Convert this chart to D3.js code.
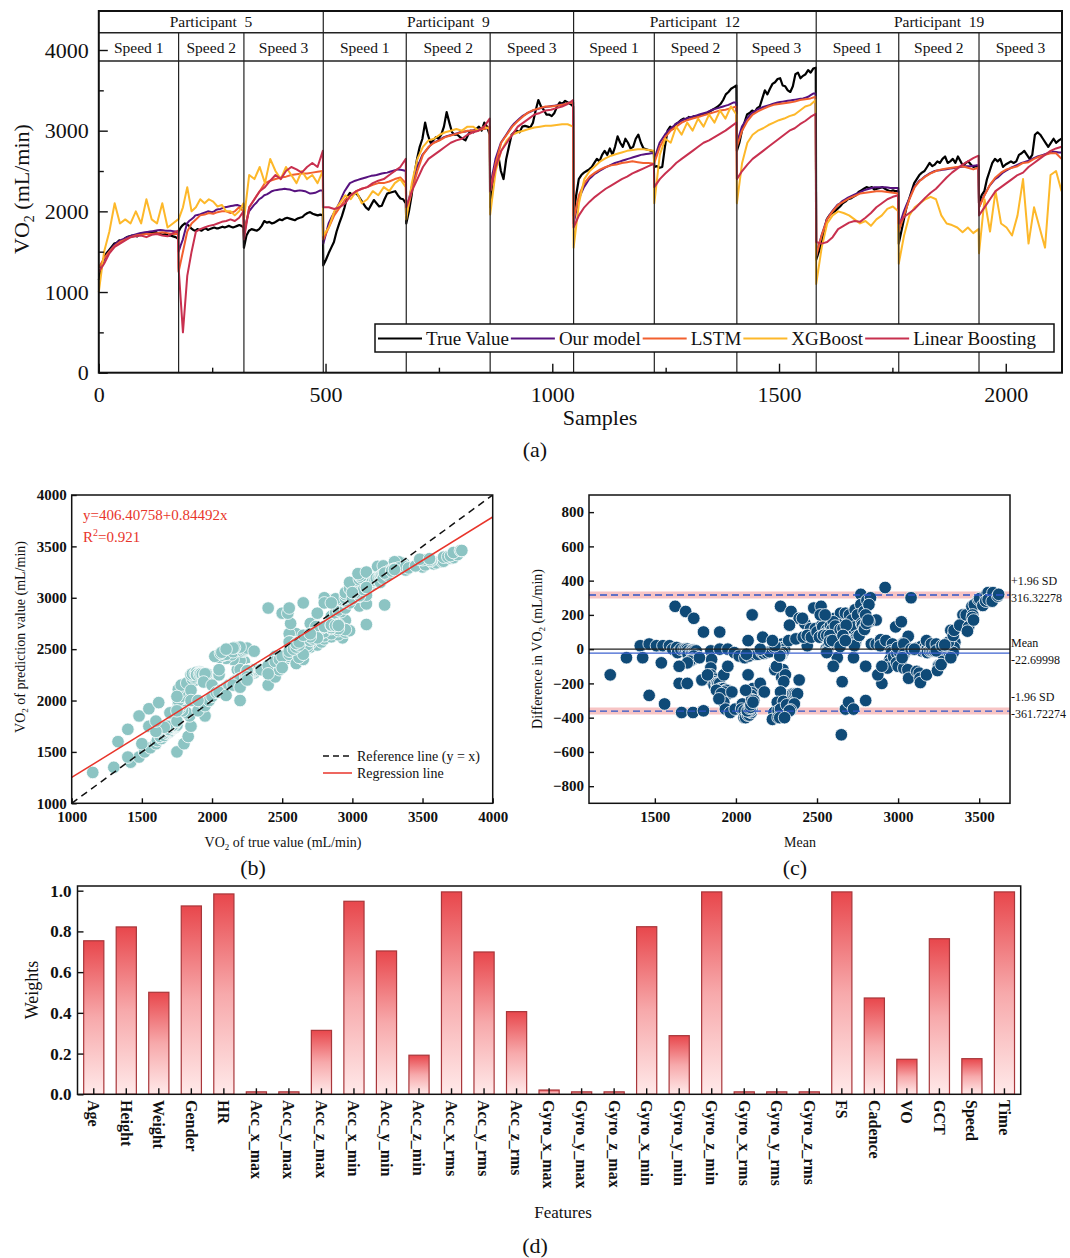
<!DOCTYPE html>
<html>
<head>
<meta charset="utf-8">
<script src="https://cdn.jsdelivr.net/npm/d3@7"></script>
<style>
  body { margin: 0; background: #fff; }
  svg { display: block; }
  text { font-family: "Liberation Serif", "Times New Roman", serif; fill: #111; }
</style>
</head>
<body>
<div id="chart"></div>
<script>
// ---------- data ----------
const participants = ["Participant  5", "Participant  9", "Participant  12", "Participant  19"];
const speeds = ["Speed 1", "Speed 2", "Speed 3"];
// first sample of every participant/speed block, and the last sample
const segStart = [0, 176, 320, 495, 678, 863, 1047, 1225, 1407, 1582, 1764, 1941];
const lastSample = 2124;

const seriesNames = ["True Value", "Our model", "LSTM", "XGBoost", "Linear Boosting"];
const seriesColors = ["#000000", "#57127f", "#f2602f", "#fdb82a", "#c8304f"];

// VO2 (mL/min): 32 readings per block for true value / our model
const trueValue = [
  1150,1300,1420,1480,1520,1560,1600,1610,1640,1630,1660,1680,1690,1700,1700,1690,1720,1730,1720,1740,1740,1730,1750,1730,1720,1710,1720,1700,1700,1690,1680,1660,
  1750,1800,1830,1850,1840,1820,1790,1770,1760,1780,1770,1760,1780,1790,1770,1780,1790,1800,1790,1790,1800,1810,1800,1810,1820,1810,1800,1810,1820,1830,1820,1800,
  1550,1700,1760,1780,1770,1760,1780,1820,1880,1860,1870,1850,1860,1880,1900,1890,1910,1920,1910,1900,1890,1910,1920,1930,1960,1980,1990,1970,1960,1950,1960,1950,
  1330,1400,1480,1550,1620,1750,1850,1940,2050,2180,2230,2200,2230,2200,2150,2100,2050,2020,2080,2140,2100,2060,2070,2150,2220,2230,2240,2250,2200,2160,2150,2100,
  1850,2000,2200,2450,2650,2800,2900,3100,2950,2850,2880,2920,2900,2950,3050,3230,3100,2980,2950,2950,2920,2900,2880,2950,3000,2980,3020,3050,3000,3100,3050,2950,
  2050,2300,2600,2700,2500,2400,2650,2800,2950,2980,3000,2980,3050,3060,3050,3040,3100,3250,3380,3300,3260,3200,3200,3180,3220,3300,3350,3330,3370,3350,3330,3300,
  1950,2200,2400,2450,2480,2500,2520,2550,2600,2650,2620,2700,2750,2700,2780,2700,2800,2930,2850,2800,2900,2850,2780,2800,2900,2950,2850,2780,2770,2760,2750,2740,
  2550,2560,2540,2550,2800,3000,3050,3020,3080,3100,3130,3150,3140,3170,3160,3180,3170,3190,3200,3210,3220,3240,3260,3280,3300,3330,3380,3450,3480,3520,3540,3560,
  2750,2850,3000,3100,3200,3220,3250,3230,3280,3300,3400,3500,3450,3520,3580,3600,3640,3650,3560,3550,3500,3480,3550,3700,3720,3650,3680,3700,3750,3720,3770,3780,
  1400,1500,1600,1750,1900,1950,1980,2000,2030,2060,2100,2120,2150,2160,2180,2200,2240,2260,2280,2300,2290,2300,2270,2280,2290,2300,2280,2260,2250,2260,2250,2250,
  1600,1750,1900,2050,2150,2250,2350,2400,2450,2480,2500,2550,2600,2560,2580,2620,2600,2650,2680,2600,2620,2650,2600,2680,2620,2560,2600,2620,2580,2550,2560,2550,
  2100,2200,2250,2400,2500,2600,2650,2620,2650,2550,2580,2600,2620,2600,2620,2700,2720,2750,2700,2650,2700,2950,2980,2950,2900,2850,2800,2850,2900,2850,2880,2900
];
const ourModel = [
  1300,1350,1400,1450,1500,1540,1580,1610,1630,1650,1660,1680,1690,1700,1710,1720,1730,1735,1740,1745,1750,1755,1760,1765,1770,1765,1760,1760,1760,1755,1750,1740,
  1500,1580,1650,1750,1850,1880,1900,1920,1950,1955,1960,1970,1980,1990,2000,1995,1990,2000,2020,2025,2030,2040,2050,2055,2060,2065,2070,2075,2080,2070,2060,2050,
  1750,1880,2000,2040,2080,2110,2150,2170,2200,2210,2230,2250,2260,2265,2270,2275,2280,2275,2270,2260,2250,2255,2260,2255,2250,2235,2220,2225,2230,2245,2260,2260,
  1600,1720,1850,1920,1980,2040,2100,2180,2250,2300,2350,2365,2380,2390,2400,2410,2420,2430,2440,2445,2450,2460,2470,2475,2480,2490,2500,2510,2520,2515,2510,2500,
  2000,2150,2300,2430,2550,2620,2700,2740,2780,2820,2850,2865,2880,2900,2920,2930,2940,2950,2960,2970,2980,2985,2990,2995,3000,3005,3010,3015,3020,3025,3030,3030,
  2300,2480,2650,2750,2850,2900,2950,3000,3050,3090,3120,3150,3180,3200,3220,3235,3250,3260,3270,3280,3290,3295,3300,3305,3310,3315,3320,3325,3330,3340,3350,3350,
  1850,2000,2150,2230,2300,2350,2400,2430,2460,2480,2500,2520,2540,2555,2570,2585,2600,2610,2620,2630,2640,2650,2660,2670,2680,2690,2700,2705,2710,2715,2720,2720,
  2650,2750,2850,2900,2950,2990,3020,3050,3080,3100,3120,3135,3150,3160,3170,3180,3190,3200,3210,3220,3230,3245,3260,3270,3280,3290,3300,3310,3320,3335,3350,3350,
  2850,2950,3050,3100,3150,3190,3220,3240,3260,3275,3290,3300,3310,3320,3330,3340,3350,3355,3360,3365,3370,3375,3380,3385,3390,3395,3400,3410,3420,3440,3460,3460,
  1450,1580,1700,1800,1900,1950,2000,2040,2080,2100,2130,2150,2170,2185,2200,2215,2230,2245,2260,2270,2280,2290,2300,2300,2300,2300,2300,2295,2290,2290,2290,2290,
  1800,1900,2000,2080,2150,2230,2300,2340,2380,2400,2430,2450,2470,2485,2500,2505,2510,2515,2520,2525,2530,2535,2540,2545,2550,2555,2560,2560,2560,2565,2570,2570,
  2050,2130,2200,2260,2320,2360,2400,2420,2450,2480,2500,2520,2540,2555,2570,2585,2600,2610,2620,2635,2650,2665,2680,2690,2700,2710,2720,2730,2740,2735,2730,2730
];
// 16 readings per block for the other models
const lstm = [
  1300,1420,1500,1570,1620,1650,1680,1700,1710,1720,1720,1730,1740,1730,1720,1720,
  1250,1500,1750,1850,1900,1950,1960,1980,1970,1990,2000,2000,1980,2000,2050,2000,
  1700,2050,2150,2250,2350,2380,2400,2420,2430,2450,2460,2470,2470,2480,2490,2500,
  1650,1800,1950,2050,2150,2200,2250,2280,2300,2330,2350,2350,2370,2400,2420,2350,
  1950,2250,2500,2700,2800,2850,2880,2920,2940,2960,2980,3000,3000,3010,3020,3050,
  2250,2600,2850,2950,3050,3120,3180,3230,3260,3280,3300,3300,3310,3320,3340,3350,
  1900,2200,2350,2430,2480,2520,2550,2570,2580,2600,2610,2620,2610,2600,2600,2590,
  2600,2800,2920,3000,3050,3100,3130,3150,3170,3190,3210,3230,3250,3260,3280,3300,
  2800,3000,3120,3200,3240,3270,3300,3320,3330,3340,3350,3360,3380,3390,3400,3420,
  1450,1700,1900,2000,2080,2120,2160,2190,2220,2230,2240,2250,2250,2240,2230,2220,
  1750,1950,2150,2300,2380,2430,2470,2500,2520,2530,2540,2550,2560,2540,2520,2540,
  2050,2200,2330,2420,2480,2520,2540,2560,2600,2610,2650,2680,2700,2720,2720,2650
];
const xgboost = [
  1000,1500,1750,2100,1850,1900,1850,2000,1850,2150,1900,1850,2100,1800,1850,1900,
  1900,2050,2300,2000,2050,2150,2100,2150,2120,2060,2080,2000,2000,1950,2000,2100,
  1900,2450,2400,2550,2350,2650,2500,2400,2550,2450,2350,2500,2400,2450,2350,2500,
  1700,1800,2000,2100,2200,2150,2250,2100,2150,2250,2200,2300,2250,2350,2400,2300,
  1900,2350,2650,2800,2880,2900,2950,2980,3000,3020,3000,3050,3050,3000,3050,3020,
  1960,2500,2750,2880,2950,2980,3000,3020,3040,3050,3060,3060,3070,3080,3080,3050,
  1550,2100,2400,2500,2560,2620,2660,2690,2710,2730,2750,2760,2770,2770,2760,2750,
  2100,2700,2900,2850,3050,2950,3100,3000,3150,3050,3200,3100,3250,3150,3300,3200,
  2100,2600,2850,2950,3000,3030,3070,3100,3130,3150,3180,3200,3250,3300,3320,3380,
  1100,1550,1850,1950,2000,1980,1950,1900,1850,1880,1820,1900,1950,2030,2060,2000,
  1350,1700,1950,2050,2100,2150,2180,2150,1950,1850,1830,1800,1740,1800,1730,1780,
  1480,2150,1750,2250,1850,1800,1700,1950,2400,1600,2050,1800,1550,2450,2500,2250
];
const linearBoosting = [
  1250,1350,1480,1560,1600,1640,1680,1690,1700,1680,1710,1720,1700,1690,1730,1760,
  1300,500,1200,1500,1750,1780,1800,1820,1830,1850,1870,1880,1900,1880,1920,2000,
  1650,2050,2150,2250,2300,2380,2450,2400,2500,2550,2520,2480,2550,2600,2550,2750,
  2050,2050,2030,2050,2100,2200,2250,2280,2300,2350,2380,2400,2450,2500,2550,2650,
  2050,2250,2400,2550,2650,2700,2750,2800,2850,2880,2900,2950,2980,3000,3050,3150,
  2250,2550,2750,2850,2950,3050,3100,3150,3200,3220,3250,3260,3280,3300,3330,3380,
  1800,1950,2050,2120,2180,2230,2280,2320,2360,2400,2430,2470,2500,2530,2560,2590,
  2300,2400,2470,2530,2600,2650,2700,2750,2800,2850,2880,2920,2960,3000,3050,3100,
  2400,2500,2580,2650,2700,2750,2800,2850,2900,2950,3000,3030,3080,3120,3170,3210,
  1620,1600,1620,1680,1780,1820,1860,1880,1870,1920,1980,2050,2100,2150,2180,2200,
  1850,1930,1980,2030,2100,2170,2230,2280,2350,2420,2480,2530,2580,2620,2660,2690,
  1950,2050,2150,2250,2300,2350,2400,2450,2480,2550,2600,2650,2700,2750,2780,2800
];
const allSeries = [trueValue, ourModel, lstm, xgboost, linearBoosting];

// regression (b) and Bland-Altman lines (c)
const regression = [406.40758, 0.84492];
const r2Text = "0.921";
const baValues = [316.32278, -22.69998, -361.72274];
const baNames = ["+1.96 SD", "Mean", "-1.96 SD"];

// feature weights (d)
const features = ["Age","Height","Weight","Gender","HR","Acc_x_max","Acc_y_max","Acc_z_max",
  "Acc_x_min","Acc_y_min","Acc_z_min","Acc_x_rms","Acc_y_rms","Acc_z_rms","Gyro_x_max",
  "Gyro_y_max","Gyro_z_max","Gyro_x_min","Gyro_y_min","Gyro_z_min","Gyro_x_rms","Gyro_y_rms",
  "Gyro_z_rms","FS","Cadence","VO","GCT","Speed","Time"];
const weights = [0.754, 0.822, 0.501, 0.925, 0.984, 0.012, 0.012, 0.314, 0.948, 0.704, 0.192,
  0.994, 0.699, 0.406, 0.021, 0.012, 0.012, 0.823, 0.288, 0.994, 0.012, 0.012, 0.012,
  0.994, 0.473, 0.172, 0.764, 0.175, 0.994];

// ---------- svg ----------
const svg = d3.select("#chart").append("svg")
  .attr("width", 1070)
  .attr("height", 1258);
svg.append("rect").attr("width", 1070).attr("height", 1258).attr("fill", "#fff");
const defs = svg.append("defs");

function styleAxis(g, size, bold) {
  g.select(".domain").remove();
  g.selectAll(".tick line").attr("stroke", "#111").attr("stroke-width", 1.4);
  g.selectAll(".tick text").attr("font-size", size).attr("font-weight", bold ? "bold" : "normal");
}

// sample index of every reading, n readings spread over each block
function sampleIndex(n) {
  const out = [];
  segStart.forEach(function(s, k) {
    const e = (k < segStart.length - 1 ? segStart[k + 1] : lastSample) - 1;
    for (let i = 0; i < n; i++) out.push(s + (e - s) * i / (n - 1));
  });
  return out;
}

// ================= (a) time series =================
const xA = d3.scaleLinear().domain([0, lastSample]).range([98.8, 1062]);
const yA = d3.scaleLinear().domain([0, 4000]).range([372.7, 50]);
const aTop = 11, aRow1 = 32.7, aRow2 = 61, aBottom = 372.7;
const gA = svg.append("g");

allSeries.forEach(function(s, k) {
  const idx = sampleIndex(s.length / segStart.length);
  const line = d3.line()
    .x(function(d, i) { return xA(idx[i]); })
    .y(function(d) { return yA(d); });
  gA.append("path")
    .datum(s)
    .attr("fill", "none")
    .attr("stroke", seriesColors[k])
    .attr("stroke-width", k === 0 ? 2.2 : 2)
    .attr("stroke-linejoin", "round")
    .attr("d", line);
});

// block separators
gA.selectAll(".sep")
  .data(segStart.slice(1))
  .enter().append("line")
  .attr("x1", function(d) { return xA(d); })
  .attr("x2", function(d) { return xA(d); })
  .attr("y1", function(d, i) { return (i + 1) % 3 === 0 ? aTop : aRow1; })
  .attr("y2", aBottom)
  .attr("stroke", "#222")
  .attr("stroke-width", 1.2);

// header band
[aRow1, aRow2].forEach(function(y) {
  gA.append("line").attr("x1", xA(0)).attr("x2", xA(lastSample))
    .attr("y1", y).attr("y2", y).attr("stroke", "#222").attr("stroke-width", 1.5);
});
participants.forEach(function(p, i) {
  const a = segStart[i * 3], b = i < 3 ? segStart[i * 3 + 3] : lastSample;
  gA.append("text")
    .attr("x", (xA(a) + xA(b)) / 2).attr("y", 27)
    .attr("text-anchor", "middle").attr("font-size", 15.5)
    .style("white-space", "pre")
    .text(p);
  speeds.forEach(function(s, j) {
    const k = i * 3 + j;
    const sa = segStart[k], sb = k < segStart.length - 1 ? segStart[k + 1] : lastSample;
    gA.append("text")
      .attr("x", (xA(sa) + xA(sb)) / 2).attr("y", 53)
      .attr("text-anchor", "middle").attr("font-size", 15.5)
      .text(s);
  });
});

// axes
const axA1 = gA.append("g").attr("transform", "translate(0," + aBottom + ")")
  .call(d3.axisBottom(xA).tickValues([0, 500, 1000, 1500, 2000]).tickSize(-9).tickPadding(14).tickFormat(d3.format("d")));
styleAxis(axA1, 22, false);
const axA2 = gA.append("g").attr("transform", "translate(0," + aBottom + ")")
  .call(d3.axisBottom(xA).tickValues([250, 750, 1250, 1750]).tickSize(-5).tickFormat(""));
styleAxis(axA2, 22, false);
const axA3 = gA.append("g").attr("transform", "translate(" + xA(0) + ",0)")
  .call(d3.axisLeft(yA).tickValues([0, 1000, 2000, 3000, 4000]).tickSize(-9).tickPadding(10).tickFormat(d3.format("d")));
styleAxis(axA3, 22, false);
const axA4 = gA.append("g").attr("transform", "translate(" + xA(0) + ",0)")
  .call(d3.axisLeft(yA).tickValues([500, 1500, 2500, 3500]).tickSize(-5).tickFormat(""));
styleAxis(axA4, 22, false);

gA.append("rect")
  .attr("x", xA(0)).attr("y", aTop)
  .attr("width", xA(lastSample) - xA(0)).attr("height", aBottom - aTop)
  .attr("fill", "none").attr("stroke", "#111").attr("stroke-width", 2);

gA.append("text").attr("x", 600).attr("y", 425).attr("text-anchor", "middle")
  .attr("font-size", 22).text("Samples");
const yTitleA = gA.append("text")
  .attr("transform", "translate(29,189) rotate(-90)")
  .attr("text-anchor", "middle").attr("font-size", 22);
yTitleA.append("tspan").text("VO");
yTitleA.append("tspan").attr("font-size", 14).attr("dy", 5).text("2");
yTitleA.append("tspan").attr("dy", -5).text(" (mL/min)");

// legend
const legA = gA.append("g");
legA.append("rect").attr("x", 375).attr("y", 324).attr("width", 679).attr("height", 28)
  .attr("fill", "#fff").attr("stroke", "#111").attr("stroke-width", 1.5);
let lx = 378;
seriesNames.forEach(function(n, k) {
  legA.append("line").attr("x1", lx).attr("x2", lx + 44).attr("y1", 338.5).attr("y2", 338.5)
    .attr("stroke", seriesColors[k]).attr("stroke-width", 2);
  const t = legA.append("text").attr("x", lx + 48).attr("y", 345).attr("font-size", 19).text(n);
  lx = lx + 48 + t.node().getComputedTextLength() + 2;
});

svg.append("text").attr("x", 535).attr("y", 457).attr("text-anchor", "middle")
  .attr("font-size", 22).text("(a)");

// ================= (b) true vs predicted =================
const xB = d3.scaleLinear().domain([1000, 4000]).range([71.7, 492.7]);
const yB = d3.scaleLinear().domain([1000, 4000]).range([803.3, 495]);
const gB = svg.append("g");
defs.append("clipPath").attr("id", "clipB").append("rect")
  .attr("x", 71.7).attr("y", 495).attr("width", 421).attr("height", 308.3);

const pairs = trueValue.map(function(t, i) { return { t: t, p: ourModel[i] }; });

gB.append("g").attr("clip-path", "url(#clipB)")
  .selectAll("circle")
  .data(pairs)
  .enter().append("circle")
  .attr("cx", function(d) { return xB(d.t); })
  .attr("cy", function(d) { return yB(d.p); })
  .attr("r", 6.3)
  .attr("fill", "#8cc4c3")
  .attr("stroke", "#fff")
  .attr("stroke-width", 0.8);

const gBl = gB.append("g").attr("clip-path", "url(#clipB)");
gBl.append("line")
  .attr("x1", xB(1000)).attr("y1", yB(1000)).attr("x2", xB(4000)).attr("y2", yB(4000))
  .attr("stroke", "#111").attr("stroke-width", 1.5).attr("stroke-dasharray", "7,5");
gBl.append("line")
  .attr("x1", xB(1000)).attr("y1", yB(regression[0] + regression[1] * 1000))
  .attr("x2", xB(4000)).attr("y2", yB(regression[0] + regression[1] * 4000))
  .attr("stroke", "#e8352b").attr("stroke-width", 1.5);

const ticksB = d3.range(1000, 4001, 500);
const axB1 = gB.append("g").attr("transform", "translate(0,803.3)")
  .call(d3.axisBottom(xB).tickValues(ticksB).tickSize(-5).tickPadding(8).tickFormat(d3.format("d")));
styleAxis(axB1, 15, true);
const axB2 = gB.append("g").attr("transform", "translate(71.7,0)")
  .call(d3.axisLeft(yB).tickValues(ticksB).tickSize(-5).tickPadding(5).tickFormat(d3.format("d")));
styleAxis(axB2, 15, true);
gB.append("rect").attr("x", 71.7).attr("y", 495).attr("width", 421).attr("height", 308.3)
  .attr("fill", "none").attr("stroke", "#111").attr("stroke-width", 1.5);

gB.append("text").attr("x", 83).attr("y", 520).attr("font-size", 15)
  .style("fill", "#e8352b")
  .text("y=" + regression[0] + "+" + regression[1] + "x");
const r2 = gB.append("text").attr("x", 83).attr("y", 542).attr("font-size", 15).style("fill", "#e8352b");
r2.append("tspan").text("R");
r2.append("tspan").attr("font-size", 10).attr("dy", -6).text("2");
r2.append("tspan").attr("dy", 6).text("=" + r2Text);

gB.append("line").attr("x1", 323).attr("x2", 352).attr("y1", 756).attr("y2", 756)
  .attr("stroke", "#111").attr("stroke-width", 1.5).attr("stroke-dasharray", "6,4");
gB.append("text").attr("x", 357).attr("y", 760.5).attr("font-size", 14).text("Reference line (y = x)");
gB.append("line").attr("x1", 323).attr("x2", 352).attr("y1", 773).attr("y2", 773)
  .attr("stroke", "#e8352b").attr("stroke-width", 1.5);
gB.append("text").attr("x", 357).attr("y", 778).attr("font-size", 14).text("Regression line");

const xtB = gB.append("text").attr("x", 283).attr("y", 847).attr("text-anchor", "middle").attr("font-size", 14);
xtB.append("tspan").text("VO");
xtB.append("tspan").attr("font-size", 9).attr("dy", 3).text("2");
xtB.append("tspan").attr("dy", -3).text(" of true value (mL/min)");
const ytB = gB.append("text").attr("transform", "translate(25,637) rotate(-90)")
  .attr("text-anchor", "middle").attr("font-size", 14);
ytB.append("tspan").text("VO");
ytB.append("tspan").attr("font-size", 9).attr("dy", 3).text("2");
ytB.append("tspan").attr("dy", -3).text(" of prediction value (mL/min)");

svg.append("text").attr("x", 253).attr("y", 875).attr("text-anchor", "middle")
  .attr("font-size", 22).text("(b)");

// ================= (c) Bland-Altman =================
const xC = d3.scaleLinear().domain([1094, 3690]).range([589, 1010]);
const yC = d3.scaleLinear().domain([-900, 900]).range([803.3, 495]);
const gC = svg.append("g");
defs.append("clipPath").attr("id", "clipC").append("rect")
  .attr("x", 589).attr("y", 495).attr("width", 421).attr("height", 308.3);

// pink bands behind the limits of agreement
gC.selectAll(".band")
  .data([baValues[0], baValues[2]])
  .enter().append("line")
  .attr("x1", 589).attr("x2", 1010)
  .attr("y1", function(d) { return yC(d); }).attr("y2", function(d) { return yC(d); })
  .attr("stroke", "#f7c4c4").attr("stroke-width", 7);

gC.append("g").attr("clip-path", "url(#clipC)")
  .selectAll("circle")
  .data(pairs)
  .enter().append("circle")
  .attr("cx", function(d) { return xC((d.t + d.p) / 2); })
  .attr("cy", function(d) { return yC(d.t - d.p); })
  .attr("r", 6.3)
  .attr("fill", "#0f4a77")
  .attr("stroke", "#fff")
  .attr("stroke-width", 0.8);

gC.append("line").attr("x1", 589).attr("x2", 1010).attr("y1", yC(0)).attr("y2", yC(0))
  .attr("stroke", "#222").attr("stroke-width", 1.2);
gC.append("line").attr("x1", 589).attr("x2", 1010).attr("y1", yC(baValues[1])).attr("y2", yC(baValues[1]))
  .attr("stroke", "#3c62d0").attr("stroke-width", 1.3);
gC.selectAll(".lim")
  .data([baValues[0], baValues[2]])
  .enter().append("line")
  .attr("x1", 589).attr("x2", 1010)
  .attr("y1", function(d) { return yC(d); }).attr("y2", function(d) { return yC(d); })
  .attr("stroke", "#2f55c8").attr("stroke-width", 1.4).attr("stroke-dasharray", "7,4");

const axC1 = gC.append("g").attr("transform", "translate(0,803.3)")
  .call(d3.axisBottom(xC).tickValues([1500, 2000, 2500, 3000, 3500]).tickSize(-5).tickPadding(8).tickFormat(d3.format("d")));
styleAxis(axC1, 15, true);
const axC2 = gC.append("g").attr("transform", "translate(589,0)")
  .call(d3.axisLeft(yC).tickValues(d3.range(-800, 801, 200)).tickSize(-5).tickPadding(5).tickFormat(d3.format("d")));
styleAxis(axC2, 15, true);
gC.append("rect").attr("x", 589).attr("y", 495).attr("width", 421).attr("height", 308.3)
  .attr("fill", "none").attr("stroke", "#111").attr("stroke-width", 1.5);

baValues.forEach(function(v, i) {
  const yy = yC(v);
  const off = i === 1 ? -8 : -12;
  gC.append("text").attr("x", 1011).attr("y", yy + off + 2).attr("font-size", 12).text(baNames[i]);
  gC.append("text").attr("x", 1011).attr("y", yy + off + 19).attr("font-size", 12).text(v.toFixed(5));
});

gC.append("text").attr("x", 800).attr("y", 847).attr("text-anchor", "middle").attr("font-size", 14).text("Mean");
const ytC = gC.append("text").attr("transform", "translate(542,649) rotate(-90)")
  .attr("text-anchor", "middle").attr("font-size", 14);
ytC.append("tspan").text("Difference in VO");
ytC.append("tspan").attr("font-size", 9).attr("dy", 3).text("2");
ytC.append("tspan").attr("dy", -3).text(" (mL/min)");

svg.append("text").attr("x", 795).attr("y", 875).attr("text-anchor", "middle")
  .attr("font-size", 22).text("(c)");

// ================= (d) feature weights =================
const xD = d3.scaleBand().domain(features).range([77.5, 1020.7]).paddingInner(0.38).paddingOuter(0.19);
const yD = d3.scaleLinear().domain([0, 1.023]).range([1094.3, 886]);
const gD = svg.append("g");

const grad = defs.append("linearGradient").attr("id", "barGrad")
  .attr("x1", 0).attr("y1", 0).attr("x2", 0).attr("y2", 1);
grad.append("stop").attr("offset", "0%").attr("stop-color", "#e8474c");
grad.append("stop").attr("offset", "50%").attr("stop-color", "#f7a9ab");
grad.append("stop").attr("offset", "100%").attr("stop-color", "#ffe9e9");

gD.selectAll(".bar")
  .data(weights)
  .enter().append("rect")
  .attr("x", function(d, i) { return xD(features[i]); })
  .attr("y", function(d) { return yD(d); })
  .attr("width", xD.bandwidth())
  .attr("height", function(d) { return yD(0) - yD(d); })
  .attr("fill", "url(#barGrad)")
  .attr("stroke", "#a8363a")
  .attr("stroke-width", 1.2);

const axD1 = gD.append("g").attr("transform", "translate(0,1094.3)")
  .call(d3.axisBottom(xD).tickSize(-6).tickFormat(""));
styleAxis(axD1, 15, true);
gD.selectAll(".flabel")
  .data(features)
  .enter().append("text")
  .attr("transform", function(d) { return "translate(" + (xD(d) + xD.bandwidth() / 2) + ",1100) rotate(90)"; })
  .attr("dy", "0.35em")
  .attr("font-size", 16)
  .attr("font-weight", "bold")
  .text(function(d) { return d; });

const axD2 = gD.append("g").attr("transform", "translate(77.5,0)")
  .call(d3.axisLeft(yD).tickValues([0, 0.2, 0.4, 0.6, 0.8, 1.0]).tickSize(-6).tickPadding(6).tickFormat(d3.format(".1f")));
styleAxis(axD2, 17, true);
gD.append("rect").attr("x", 77.5).attr("y", 886).attr("width", 943.2).attr("height", 208.3)
  .attr("fill", "none").attr("stroke", "#111").attr("stroke-width", 1.5);

gD.append("text").attr("transform", "translate(38,990) rotate(-90)")
  .attr("text-anchor", "middle").attr("font-size", 18).text("Weights");
gD.append("text").attr("x", 563).attr("y", 1218).attr("text-anchor", "middle")
  .attr("font-size", 17).text("Features");

svg.append("text").attr("x", 535).attr("y", 1253).attr("text-anchor", "middle")
  .attr("font-size", 22).text("(d)");
</script>
</body>
</html>
